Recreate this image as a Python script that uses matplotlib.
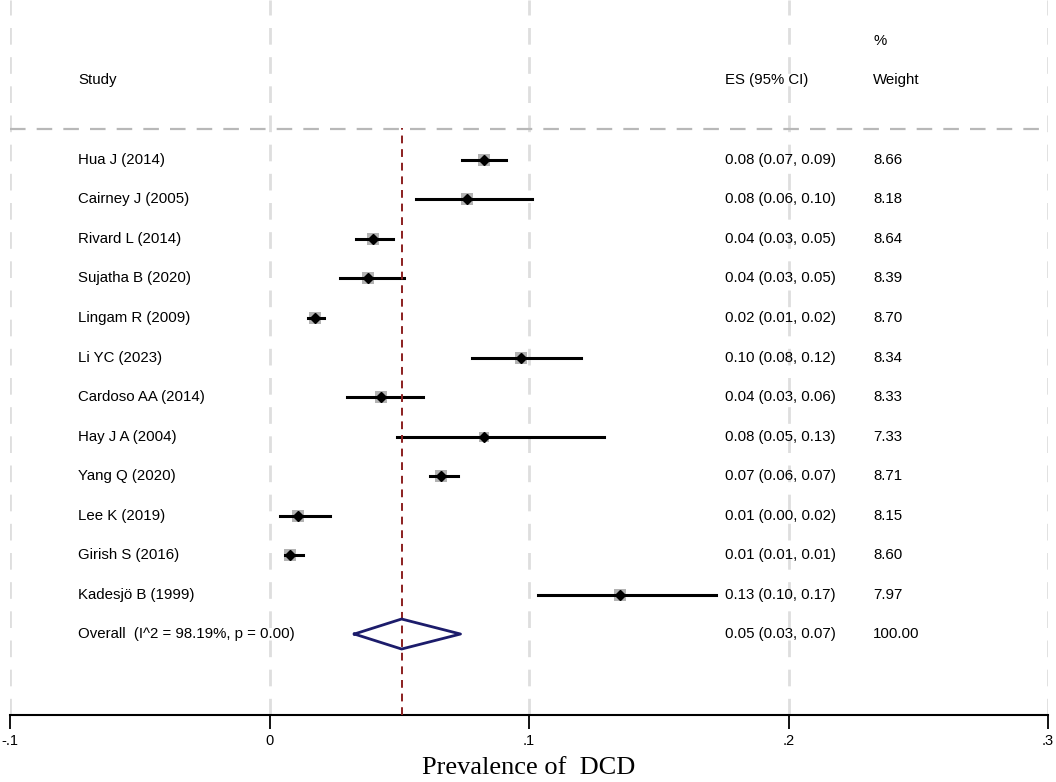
import numpy as np
import matplotlib
matplotlib.use('Agg')
import matplotlib.pyplot as plt
import matplotlib.transforms as mtransforms

# 研究数据
studies = ['Hua J (2014)', 'Cairney J (2005)', 'Rivard L (2014)', 'Sujatha B (2020)',
           'Lingam R (2009)', 'Li YC (2023)', 'Cardoso AA (2014)', 'Hay J A (2004)',
           'Yang Q (2020)', 'Lee K (2019)', 'Girish S (2016)', 'Kadesjö B (1999)']
es = [0.0825, 0.0763, 0.040, 0.038, 0.0177, 0.097, 0.0428, 0.0825, 0.066, 0.0108, 0.008, 0.135]
ci_lo = [0.074, 0.0563, 0.0335, 0.027, 0.015, 0.078, 0.030, 0.049, 0.062, 0.004, 0.006, 0.1035]
ci_hi = [0.091, 0.101, 0.0474, 0.052, 0.021, 0.120, 0.059, 0.129, 0.0725, 0.0235, 0.013, 0.172]
es_text = ['0.08 (0.07, 0.09)', '0.08 (0.06, 0.10)', '0.04 (0.03, 0.05)', '0.04 (0.03, 0.05)',
           '0.02 (0.01, 0.02)', '0.10 (0.08, 0.12)', '0.04 (0.03, 0.06)', '0.08 (0.05, 0.13)',
           '0.07 (0.06, 0.07)', '0.01 (0.00, 0.02)', '0.01 (0.01, 0.01)', '0.13 (0.10, 0.17)']
weights = ['8.66', '8.18', '8.64', '8.39', '8.70', '8.34', '8.33', '7.33', '8.71', '8.15', '8.60', '7.97']

# 合并效应
overall_es = 0.0509
overall_lo = 0.0327
overall_hi = 0.0736
overall_label = 'Overall  (I^2 = 98.19%, p = 0.00)'
overall_text = '0.05 (0.03, 0.07)'
overall_weight = '100.00'

xticks = [-0.1, 0, 0.1, 0.2, 0.3]
xtick_labels = ['-.1', '0', '.1', '.2', '.3']

plt.rcParams['font.family'] = ['Liberation Sans', 'DejaVu Sans']

fig = plt.figure(figsize=(10.56, 7.82), dpi=100)
ax = fig.add_axes([10 / 1056, 1 - 715 / 782, 1038 / 1056, 715 / 782])
ax.set_xlim(-0.1, 0.3)
ax.set_ylim(14.05, -4.05)

# 竖向网格线
for t in xticks:
    ax.axvline(t, color='#dedede', lw=2, ls=(0, (6, 4.5)), zorder=0)

# 表头分隔线
ax.axhline(-0.78, xmax=0.997, color='#b8b8b8', lw=1.6, ls=(0, (7, 5)), zorder=1)

rows = np.arange(len(studies))
fsize = 10.8

for i in rows:
    ax.plot([ci_lo[i], ci_hi[i]], [i, i], color='black', lw=2.2, zorder=3)
    w = float(weights[i])
    ax.plot(es[i], i, marker='s', color='#b3b3b3', markersize=8.6 * np.sqrt(w / 8.7),
            markeredgewidth=0, zorder=2)
    ax.plot(es[i], i, marker='D', color='black', markersize=5.2, zorder=4)

# 合并菱形
oy = len(studies)
dx = [overall_lo, overall_es, overall_hi, overall_es, overall_lo]
dy = [oy, oy - 0.38, oy, oy + 0.38, oy]
ax.plot(dx, dy, color='#1c1c6b', lw=2, zorder=4)

# 合并效应竖线
ax.axvline(overall_es, ymin=0, ymax=1 - 3.25 / 18.1, color='#8b1f1f', lw=1.4,
           ls=(0, (4, 3)), zorder=3)

# 文本列
x_study, x_es, x_w = 78 / 1056, 725 / 1056, 873 / 1056
txt_tr = mtransforms.blended_transform_factory(fig.transFigure, ax.transData)


def put(x, y, s):
    ax.text(x, y, s, transform=txt_tr, fontsize=fsize, va='center', ha='left')


put(x_study, -2.03, 'Study')
put(x_es, -2.03, 'ES (95% CI)')
put(x_w, -2.03, 'Weight')
put(x_w, -3.0, '%')
for i in rows:
    put(x_study, i, studies[i])
    put(x_es, i, es_text[i])
    put(x_w, i, weights[i])
put(x_study, oy, overall_label)
put(x_es, oy, overall_text)
put(x_w, oy, overall_weight)

# 坐标轴
for s in ['top', 'right', 'left']:
    ax.spines[s].set_visible(False)
ax.spines['bottom'].set_linewidth(1.5)
ax.set_yticks([])
ax.set_xticks(xticks)
ax.set_xticklabels(xtick_labels, fontsize=10.5)
ax.tick_params(axis='x', length=10, width=1.3, pad=4)
ax.set_xlabel('Prevalence of  DCD', fontsize=19, family=['Liberation Serif'], labelpad=6)

fig.savefig('out.png', dpi=100)
